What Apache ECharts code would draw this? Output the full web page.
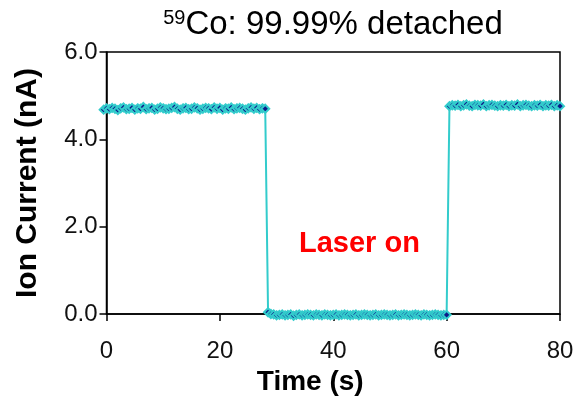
<!DOCTYPE html>
<html>
<head>
<meta charset="utf-8">
<script src="https://cdn.jsdelivr.net/npm/echarts@6/dist/echarts.min.js"></script>
<style>
html,body{margin:0;padding:0;background:#fff;}
#c{width:575px;height:396px;}
</style>
</head>
<body>
<div id="c"></div>
<script>
// Time axis (s)
var times = [
  -0.5,0,0.5,1,1.5,2,2.5,3,3.5,4,4.5,5,5.5,6,6.5,7,7.5,8,8.5,9,
  9.5,10,10.5,11,11.5,12,12.5,13,13.5,14,14.5,15,15.5,16,16.5,17,17.5,18,18.5,19,
  19.5,20,20.5,21,21.5,22,22.5,23,23.5,24,24.5,25,25.5,26,26.5,27,27.5,28,
  28.5,29,29.5,30,30.5,31,31.5,32,32.5,33,33.5,34,34.5,35,35.5,36,36.5,37,37.5,38,
  38.5,39,39.5,40,40.5,41,41.5,42,42.5,43,43.5,44,44.5,45,45.5,46,46.5,47,47.5,48,
  48.5,49,49.5,50,50.5,51,51.5,52,52.5,53,53.5,54,54.5,55,55.5,56,56.5,57,57.5,58,
  58.5,59,59.5,60,
  60.5,61,61.5,62,62.5,63,63.5,64,64.5,65,65.5,66,66.5,67,67.5,68,68.5,69,69.5,70,
  70.5,71,71.5,72,72.5,73,73.5,74,74.5,75,75.5,76,76.5,77,77.5,78,78.5,79,79.5,80
];
// Ion current (nA) before the laser
var currentBefore = [
  4.68,4.71,4.69,4.72,4.70,4.67,4.71,4.73,4.69,4.70,
  4.72,4.68,4.71,4.70,4.74,4.69,4.71,4.72,4.68,4.70,
  4.73,4.71,4.69,4.70,4.72,4.74,4.70,4.68,4.71,4.72,
  4.69,4.70,4.73,4.71,4.68,4.70,4.72,4.71,4.69,4.73,
  4.70,4.72,4.68,4.71,4.70,4.73,4.69,4.71,4.72,4.70,
  4.68,4.71,4.73,4.70,4.72,4.69,4.71,4.70
];
// Ion current (nA) with laser on
var currentLaserOn = [
  0.04,0.00,-0.01,-0.03,-0.02,-0.01,-0.03,-0.02,-0.01,-0.04,
  -0.02,-0.01,-0.03,-0.02,-0.01,-0.02,-0.03,-0.01,-0.02,-0.03,
  -0.01,-0.02,-0.03,-0.02,-0.01,-0.03,-0.02,-0.01,-0.02,-0.03,
  -0.02,-0.01,-0.03,-0.02,-0.01,-0.02,-0.03,-0.02,-0.01,-0.03,
  -0.02,-0.01,-0.02,-0.03,-0.02,-0.01,-0.03,-0.02,-0.01,-0.02,
  -0.03,-0.02,-0.01,-0.02,-0.03,-0.01,-0.02,-0.03,-0.02,-0.01,
  -0.02,-0.03,-0.02,-0.02
];
// Ion current (nA) after the laser
var currentAfter = [
  4.76,4.78,4.77,4.79,4.76,4.78,4.80,4.77,4.76,4.79,
  4.78,4.77,4.80,4.76,4.78,4.79,4.77,4.76,4.78,4.77,
  4.79,4.76,4.78,4.77,4.80,4.76,4.78,4.79,4.77,4.76,
  4.78,4.77,4.79,4.76,4.78,4.77,4.79,4.76,4.78,4.76
];
var xTicks = [0, 20, 40, 60, 80];
var yTicks = [0, 2, 4, 6];

var currents = currentBefore.concat(currentLaserOn, currentAfter);
var data = times.map(function (t, i) { return [t, currents[i]]; });

var chart = echarts.init(document.getElementById('c'), null, {renderer: 'canvas'});
var FONT = '"Liberation Sans", Arial, sans-serif';
chart.setOption({
  animation: false,
  backgroundColor: '#fff',
  title: {
    text: '{sup|59}{main|Co: 99.99% detached}',
    left: 328, top: 3, textAlign: 'center',
    textStyle: {
      fontWeight: 'normal',
      rich: {
        sup: {fontFamily: FONT, fontSize: 20, fontWeight: 'normal', color: '#000', verticalAlign: 'top', padding: [0, 0, 14, 0]},
        main: {fontFamily: FONT, fontSize: 33, fontWeight: 'normal', color: '#000'}
      }
    }
  },
  grid: {left: 106.5, right: 15, top: 52, bottom: 82, containLabel: false, outerBoundsMode: 'none',
    show: true, borderColor: '#000', borderWidth: 1.5, backgroundColor: 'transparent'},
  xAxis: {
    type: 'value', min: 0, max: 80, interval: 20,
    name: 'Time (s)', nameLocation: 'middle', nameGap: 54,
    nameTextStyle: {fontFamily: FONT, fontSize: 28, fontWeight: 'bold', color: '#000', padding: [0, 46, 0, 0]},
    axisLine: {show: true, onZero: false, lineStyle: {color: '#000', width: 1.5}},
    axisTick: {show: true, inside: false, length: 7, lineStyle: {color: '#000', width: 1.5}},
    axisLabel: {fontFamily: FONT, fontSize: 24, color: '#111', margin: 25,
      formatter: function (v) { return xTicks.indexOf(v) >= 0 ? String(v) : ''; }},
    splitLine: {show: false}
  },
  yAxis: {
    type: 'value', min: 0, max: 6, interval: 2,
    name: 'Ion Current (nA)', nameLocation: 'middle', nameGap: 64, nameRotate: 90,
    nameTextStyle: {fontFamily: FONT, fontSize: 30, fontWeight: 'bold', color: '#000'},
    axisLine: {show: true, lineStyle: {color: '#000', width: 1.5}},
    axisTick: {show: true, inside: false, length: 7, lineStyle: {color: '#000', width: 1.5}},
    axisLabel: {fontFamily: FONT, fontSize: 24, color: '#111', margin: 9, padding: [6, 0, 0, 0],
      formatter: function (v) { return yTicks.indexOf(v) >= 0 ? v.toFixed(1) : ''; }},
    splitLine: {show: false}
  },
  series: [{
    type: 'line',
    data: data,
    clip: false,
    symbol: 'diamond',
    symbolSize: 8,
    showAllSymbol: true,
    lineStyle: {color: '#33CCCC', width: 2},
    itemStyle: {color: '#0B1A8A', borderColor: '#33CCCC', borderWidth: 2},
    z: 3
  }],
  graphic: [{
    type: 'text',
    left: 299, top: 229,
    style: {text: 'Laser on', fill: '#FF0000', font: 'bold 29px ' + FONT}
  }]
});
</script>
</body>
</html>
